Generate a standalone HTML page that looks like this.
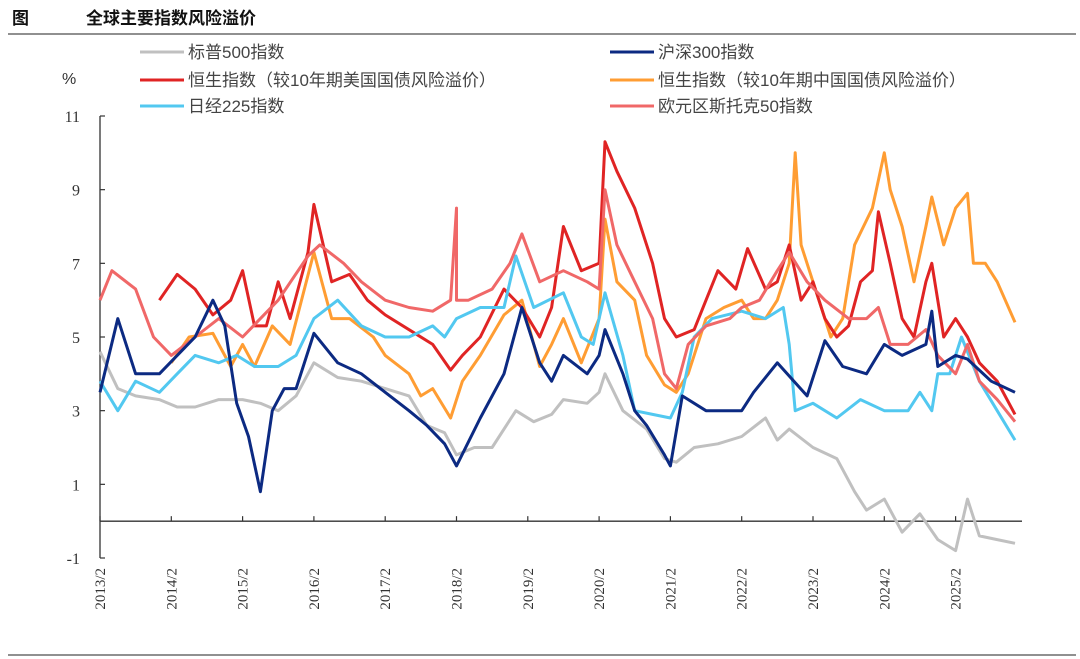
<!DOCTYPE html>
<html><head><meta charset="utf-8">
<style>
body{margin:0;background:#fff;}
svg{display:block;font-family:"Liberation Sans","Noto Sans CJK SC",sans-serif;}
</style></head>
<body>
<svg id="chart" width="1080" height="659" viewBox="0 0 1080 659" xmlns="http://www.w3.org/2000/svg">
<text x="12" y="24" font-size="17" font-weight="bold" fill="#111">图</text>
<text x="86" y="24" font-size="17" font-weight="bold" fill="#111">全球主要指数风险溢价</text>
<line x1="8" y1="34" x2="1076" y2="34" stroke="#222" stroke-width="1"/>
<line x1="8" y1="655" x2="1076" y2="655" stroke="#222" stroke-width="1"/>
<text x="62" y="84" font-size="16" fill="#333">%</text>
<g id="axes"></g>
<g id="series"></g>
<g id="legend"></g>
</svg>
<script>
const yTicks = [-1, 1, 3, 5, 7, 9, 11];
const xTickLabels = ["2013/2","2014/2","2015/2","2016/2","2017/2","2018/2","2019/2","2020/2","2021/2","2022/2","2023/2","2024/2","2025/2"];
const seriesNames = ["标普500指数","沪深300指数","恒生指数（较10年期美国国债风险溢价）","恒生指数（较10年期中国国债风险溢价）","日经225指数","欧元区斯托克50指数"];

const spxDates = ["2013/2","2013/5","2013/8","2013/12","2014/3","2014/6","2014/10","2015/2","2015/5","2015/8","2015/11","2016/2","2016/6","2016/10","2017/2","2017/6","2017/9","2017/12","2018/2","2018/5","2018/8","2018/12","2019/3","2019/6","2019/8","2019/12","2020/2","2020/3","2020/6","2020/10","2021/1","2021/3","2021/6","2021/10","2022/2","2022/6","2022/8","2022/10","2023/2","2023/6","2023/9","2023/11","2024/2","2024/5","2024/8","2024/11","2025/2","2025/4","2025/6","2025/9","2025/12"];
const spxValues = [4.6,3.6,3.4,3.3,3.1,3.1,3.3,3.3,3.2,3.0,3.4,4.3,3.9,3.8,3.6,3.4,2.6,2.4,1.8,2.0,2.0,3.0,2.7,2.9,3.3,3.2,3.5,4.0,3.0,2.5,1.7,1.6,2.0,2.1,2.3,2.8,2.2,2.5,2.0,1.7,0.8,0.3,0.6,-0.3,0.2,-0.5,-0.8,0.6,-0.4,-0.5,-0.6];

const csiDates = ["2013/2","2013/5","2013/8","2013/12","2014/3","2014/6","2014/9","2014/11","2015/1","2015/3","2015/5","2015/7","2015/9","2015/11","2016/2","2016/6","2016/10","2017/2","2017/6","2017/9","2017/12","2018/2","2018/6","2018/10","2019/1","2019/4","2019/6","2019/8","2019/12","2020/2","2020/3","2020/6","2020/8","2020/10","2021/1","2021/2","2021/4","2021/8","2022/2","2022/4","2022/8","2023/1","2023/4","2023/7","2023/11","2024/2","2024/5","2024/9","2024/10","2024/11","2025/2","2025/4","2025/8","2025/12"];
const csiValues = [3.5,5.5,4.0,4.0,4.5,5.0,6.0,5.3,3.2,2.3,0.8,3.0,3.6,3.6,5.1,4.3,4.0,3.5,3.0,2.6,2.1,1.5,2.8,4.0,5.8,4.3,3.8,4.5,4.0,4.5,5.2,4.0,3.0,2.6,1.8,1.5,3.4,3.0,3.0,3.5,4.3,3.4,4.9,4.2,4.0,4.8,4.5,4.8,5.7,4.2,4.5,4.4,3.8,3.5];

const hsiUsDates = ["2013/12","2014/3","2014/6","2014/9","2014/12","2015/2","2015/4","2015/6","2015/8","2015/10","2016/1","2016/2","2016/5","2016/8","2016/11","2017/2","2017/7","2017/10","2018/1","2018/3","2018/6","2018/10","2019/1","2019/4","2019/6","2019/8","2019/11","2020/2","2020/3","2020/5","2020/8","2020/11","2021/1","2021/3","2021/6","2021/8","2021/10","2022/1","2022/3","2022/6","2022/8","2022/10","2022/12","2023/2","2023/4","2023/6","2023/8","2023/10","2023/12","2024/1","2024/3","2024/5","2024/7","2024/9","2024/10","2024/12","2025/2","2025/4","2025/6","2025/9","2025/12"];
const hsiUsValues = [6.0,6.7,6.3,5.6,6.0,6.8,5.3,5.3,6.5,5.5,7.3,8.6,6.5,6.7,6.0,5.6,5.1,4.8,4.1,4.5,5.0,6.3,5.8,5.0,5.8,8.0,6.8,7.0,10.3,9.5,8.5,7.0,5.5,5.0,5.2,6.0,6.8,6.3,7.4,6.3,6.5,7.5,6.0,6.5,5.5,5.0,5.3,6.5,6.8,8.4,7.0,5.5,5.0,6.5,7.0,5.0,5.5,5.0,4.3,3.8,2.9];

const hsiCnDates = ["2014/2","2014/5","2014/9","2014/12","2015/2","2015/4","2015/7","2015/10","2016/2","2016/5","2016/8","2016/12","2017/2","2017/6","2017/8","2017/10","2018/1","2018/3","2018/6","2018/10","2019/1","2019/4","2019/6","2019/8","2019/11","2020/2","2020/3","2020/5","2020/8","2020/10","2021/1","2021/3","2021/5","2021/8","2021/11","2022/2","2022/4","2022/6","2022/8","2022/10","2022/11","2022/12","2023/2","2023/5","2023/7","2023/9","2023/12","2024/2","2024/3","2024/5","2024/7","2024/9","2024/10","2024/12","2025/2","2025/4","2025/5","2025/7","2025/9","2025/12"];
const hsiCnValues = [4.3,5.0,5.1,4.2,4.8,4.2,5.3,4.8,7.3,5.5,5.5,5.0,4.5,4.0,3.4,3.6,2.8,3.8,4.5,5.6,6.0,4.2,4.8,5.5,4.3,5.5,8.2,6.5,6.0,4.5,3.7,3.5,4.0,5.5,5.8,6.0,5.5,5.5,6.0,7.0,10.0,7.5,6.5,5.0,5.5,7.5,8.5,10.0,9.0,8.0,6.5,8.0,8.8,7.5,8.5,8.9,7.0,7.0,6.5,5.4];

const nkDates = ["2013/2","2013/5","2013/8","2013/12","2014/3","2014/6","2014/10","2015/1","2015/4","2015/8","2015/11","2016/2","2016/6","2016/10","2017/2","2017/6","2017/10","2017/12","2018/2","2018/6","2018/10","2018/12","2019/3","2019/8","2019/11","2020/1","2020/3","2020/6","2020/8","2020/11","2021/2","2021/4","2021/6","2021/9","2022/2","2022/6","2022/9","2022/10","2022/11","2023/2","2023/6","2023/10","2024/2","2024/6","2024/8","2024/10","2024/11","2025/1","2025/3","2025/6","2025/9","2025/12"];
const nkValues = [3.8,3.0,3.8,3.5,4.0,4.5,4.3,4.5,4.2,4.2,4.5,5.5,6.0,5.3,5.0,5.0,5.3,5.0,5.5,5.8,5.8,7.2,5.8,6.2,5.0,4.8,6.2,4.5,3.0,2.9,2.8,3.5,5.0,5.5,5.7,5.5,5.8,4.8,3.0,3.2,2.8,3.3,3.0,3.0,3.5,3.0,4.0,4.0,5.0,3.8,3.0,2.2];

const euDates = ["2013/2","2013/4","2013/8","2013/11","2014/2","2014/6","2014/10","2015/2","2015/5","2015/8","2016/1","2016/3","2016/7","2016/10","2017/2","2017/6","2017/10","2018/1","2018/2","2018/2","2018/4","2018/8","2018/11","2019/1","2019/4","2019/8","2019/12","2020/2","2020/3","2020/5","2020/8","2020/11","2021/1","2021/3","2021/5","2021/8","2021/12","2022/2","2022/5","2022/8","2022/10","2023/1","2023/4","2023/8","2023/11","2024/1","2024/3","2024/6","2024/9","2024/11","2025/2","2025/4","2025/6","2025/9","2025/12"];
const euValues = [6.0,6.8,6.3,5.0,4.5,5.0,5.5,5.0,5.5,6.0,7.2,7.5,7.0,6.5,6.0,5.8,5.7,6.0,8.5,6.0,6.0,6.3,7.0,7.8,6.5,6.8,6.5,6.3,9.0,7.5,6.5,5.5,4.0,3.6,4.8,5.3,5.5,5.8,6.0,6.8,7.3,6.5,6.0,5.5,5.5,5.8,4.8,4.8,5.2,4.5,4.0,4.8,3.8,3.3,2.7];

const NS="http://www.w3.org/2000/svg";
const X0=100, XEND=1022, YTOP=116, YBOT=558, VMIN=-1, VMAX=11;
function parseDate(s){const p=s.split("/");return +p[0]+(+p[1]-1)/12;}
function xScale(s){return X0+(parseDate(s)-2013-1/12)*71.3;}
function yScale(v){return YBOT-(v-VMIN)/(VMAX-VMIN)*(YBOT-YTOP);}
function mk(tag,attrs,parent){const e=document.createElementNS(NS,tag);for(const k in attrs)e.setAttribute(k,attrs[k]);parent.appendChild(e);return e;}

const axes=document.getElementById("axes");
const yAxis=mk("line",{x1:X0,y1:YTOP,x2:X0,y2:YBOT,stroke:"#333","stroke-width":1.3},axes);


yTicks.forEach(v=>{
  const y=yScale(v);
  const t=mk("line",{x1:X0,y1:y,x2:X0+5,y2:y,stroke:"#333","stroke-width":1.2},axes);
  
  
  const l=mk("text",{x:X0-20,y:y+6,"font-size":16,fill:"#333","text-anchor":"end","font-family":"Liberation Serif, serif"},axes);
  l.textContent=v;
  
  
});
const zy=yScale(0);
const xAxis=mk("line",{x1:X0,y1:zy,x2:XEND,y2:zy,stroke:"#333","stroke-width":1.3},axes);


xTickLabels.forEach(s=>{
  const x=xScale(s);
  const t=mk("line",{x1:x,y1:zy,x2:x,y2:zy-5,stroke:"#333","stroke-width":1.2},axes);
  
  
  const l=mk("text",{x:0,y:0,"font-size":15,fill:"#333","text-anchor":"end","font-family":"Liberation Serif, serif",transform:`translate(${x+5},568) rotate(-90)`},axes);
  l.textContent=s;
  
  
});

const sg=document.getElementById("series");
const colors=["#c0c0c0","#0c2a82","#e02424","#ff9d33","#52c8f0","#f06868"];
const all=[[spxDates,spxValues,0,"sp500-line"],[hsiCnDates,hsiCnValues,3,"hsi-cn-line"],[hsiUsDates,hsiUsValues,2,"hsi-us-line"],[nkDates,nkValues,4,"nikkei-line"],[euDates,euValues,5,"eurostoxx-line"],[csiDates,csiValues,1,"csi300-line"]];
all.forEach(([d,v,ci,name])=>{
  const pts=d.map((s,i)=>xScale(s).toFixed(1)+","+yScale(v[i]).toFixed(1)).join(" ");
  const p=mk("polyline",{points:pts,fill:"none",stroke:colors[ci],"stroke-width":3,"stroke-linejoin":"round"},sg);
  
  
});

const lg=document.getElementById("legend");
const lpos=[[140,52],[610,52],[140,80],[610,80],[140,106],[610,106]];
seriesNames.forEach((n,i)=>{
  const [x,y]=lpos[i];
  const g=mk("g",{},lg);
  
  
  mk("line",{x1:x,y1:y,x2:x+44,y2:y,stroke:colors[i],"stroke-width":3},g);
  const t=mk("text",{x:x+48,y:y+6,"font-size":17,fill:"#444"},g);
  t.textContent=n;
});
</script>
</body></html>
